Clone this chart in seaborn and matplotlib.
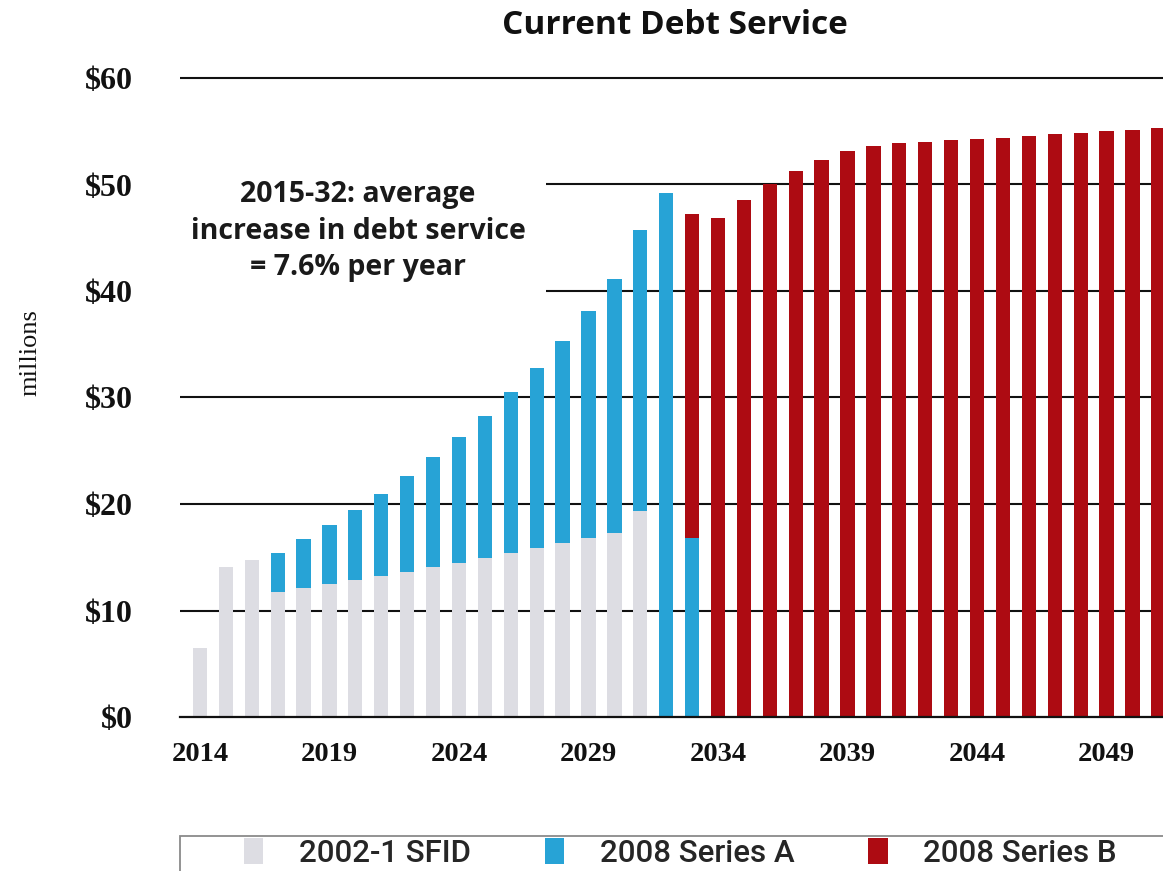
import numpy as np
import pandas as pd
import matplotlib
matplotlib.use("Agg")
import matplotlib.pyplot as plt
from matplotlib.patches import Patch, Rectangle
import seaborn as sns

# ---------------- data (millions of dollars) ----------------
years = list(range(2014, 2052))
sfid_2002 = [6.5, 14.1, 14.7, 11.7, 12.1, 12.5, 12.9, 13.2, 13.6, 14.1,
             14.5, 14.9, 15.4, 15.9, 16.3, 16.8, 17.3, 19.3] + [0.0] * 20
series_a = [0.0, 0.0, 0.0, 3.7, 4.6, 5.5, 6.5, 7.7, 9.0, 10.3,
            11.8, 13.4, 15.1, 16.9, 19.0, 21.3, 23.8, 26.4, 49.2, 16.8] + [0.0] * 18
series_b = [0.0] * 19 + [30.4, 46.9, 48.5, 50.0, 51.3, 52.3, 53.1, 53.6, 53.9,
                         54.0, 54.2, 54.3, 54.4, 54.6, 54.7, 54.8, 55.0, 55.1, 55.3]
series_names = ["2002-1 SFID", "2008 Series A", "2008 Series B"]
tick_years = [2014, 2019, 2024, 2029, 2034, 2039, 2044, 2049]
y_ticks = [0, 10, 20, 30, 40, 50, 60]
y_labels = ["$0", "$10", "$20", "$30", "$40", "$50", "$60"]
title = "Current Debt Service"
note = "2015-32: average\nincrease in debt service\n= 7.6% per year"
y_title = "millions"

colors = ["#dddde3", "#27a3d6", "#ad0b12"]

# ---------------- style ----------------
sns.set_theme(style="white")
plt.rcParams["font.family"] = ["Open Sans", "DejaVu Sans"]

df = pd.DataFrame({"year": years, "sfid": sfid_2002, "a": series_a, "b": series_b})
df["cum_sfid"] = df["sfid"]
df["cum_a"] = df["sfid"] + df["a"]
df["cum_b"] = df["sfid"] + df["a"] + df["b"]

fig = plt.figure(figsize=(11.63, 8.71), dpi=100)
W, H = 1163, 871
ax = fig.add_axes([180 / W, (H - 717) / H, 1 - 180 / W, 62 * 10.65 / H])

# layered (stacked) bars: total first, then cumulative lower parts on top
layers = [("cum_b", "b", colors[2]), ("cum_a", "a", colors[1]), ("cum_sfid", "sfid", colors[0])]
for cum_col, own_col, col in layers:
    sub = df[df[own_col] > 0]
    sns.barplot(data=sub, x="year", y=cum_col, native_scale=True, color=col,
                width=0.55, saturation=1, edgecolor="none", linewidth=0, ax=ax,
                zorder=3)

ax.set_xlim(2013.23, 2051.18)
ax.set_ylim(0, 62)
ax.set_xlabel("")
ax.set_ylabel("")

# gridlines
ax.set_axisbelow(True)
for y in y_ticks[1:]:
    ax.axhline(y, color="#111111", lw=1.5, zorder=1)

for s in ["top", "right", "left"]:
    ax.spines[s].set_visible(False)
ax.spines["bottom"].set_color("#111111")
ax.spines["bottom"].set_linewidth(1.6)
ax.spines["bottom"].set_zorder(4)

ax.set_yticks(y_ticks)
ax.set_yticklabels(y_labels, fontfamily="Liberation Serif", fontweight="bold",
                   fontsize=23, color="#111111")
ax.tick_params(axis="y", length=4, color="#999999", pad=34, direction="in")

ax.set_xticks(tick_years)
ax.set_xticklabels([str(t) for t in tick_years], fontfamily="Liberation Serif",
                   fontweight="bold", fontsize=20.5, color="#111111")
ax.set_xticks([y - 0.5 for y in years], minor=True)
ax.tick_params(axis="x", which="major", length=0, pad=18)
ax.tick_params(axis="x", which="minor", length=5, width=1.3, color="#111111",
               direction="out")

# title
fig.text(675 / W, 1 - 25 / H, title, ha="center", va="center",
         fontsize=24, fontweight="bold", color="#111111")

# y title
fig.text(30 / W, 1 - 353 / H, y_title, rotation=90, ha="center", va="center",
         fontfamily="Liberation Serif", fontsize=19, color="#111111")

# annotation with white box
fig.text(358 / W, 1 - 231 / H, note, ha="center", va="center", multialignment="center",
         fontsize=20.5, fontweight="bold", color="#1a1a1a", linespacing=1.33,
         bbox=dict(boxstyle="square,pad=0.72", facecolor="white", edgecolor="none"),
         zorder=10)

# legend
handles = [Patch(facecolor=c, edgecolor="none") for c in colors]
fig.legend(handles, series_names, loc="center left",
           bbox_to_anchor=(244 / W, (H - 853) / H), ncol=3, frameon=False,
           prop={"family": "Roboto", "size": 22.5, "weight": "medium"},
           handlelength=0.62, handleheight=0.92,
           handletextpad=1.15, columnspacing=2.35, borderpad=0, borderaxespad=0)
fig.patches.append(Rectangle((180 / W, -0.05), 1.1, (H - 836) / H + 0.05,
                             transform=fig.transFigure, facecolor="none",
                             edgecolor="#8a8a8a", lw=1.3))

fig.savefig("out.png", dpi=100)
